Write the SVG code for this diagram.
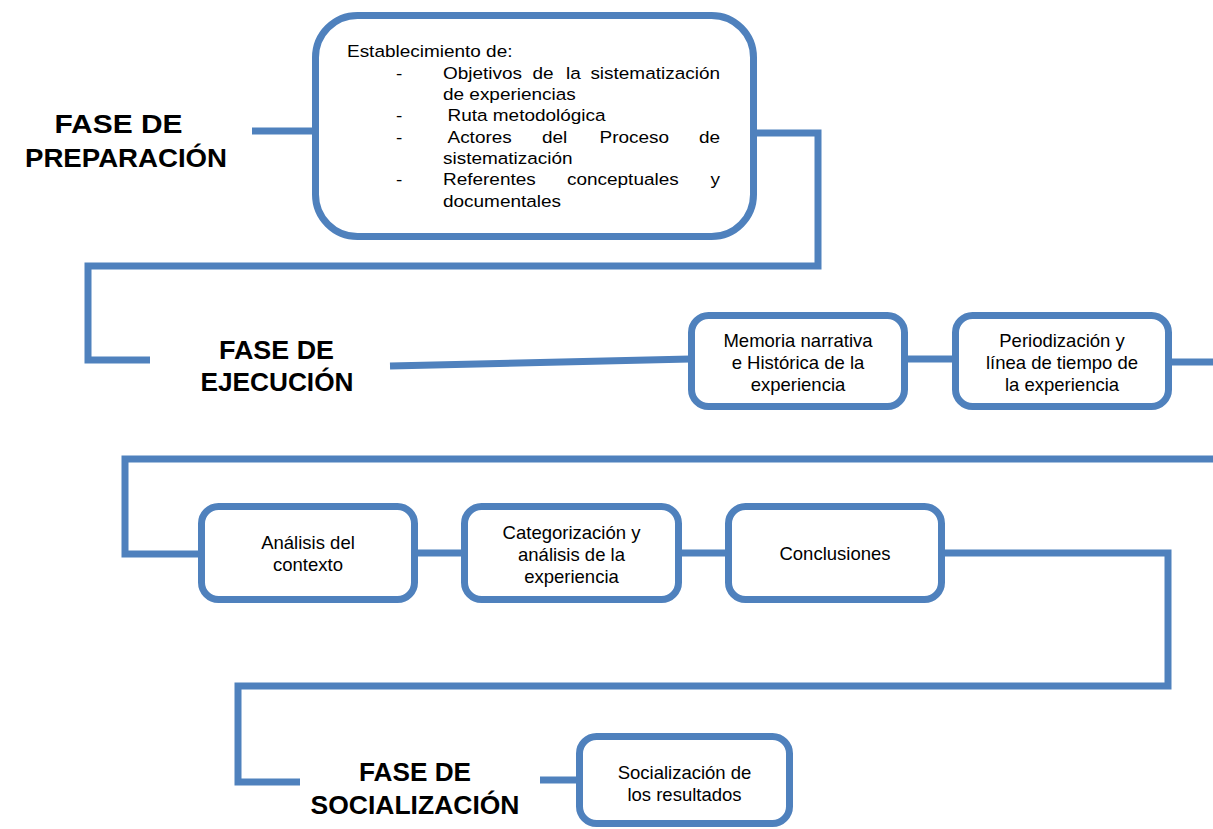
<svg xmlns="http://www.w3.org/2000/svg" width="1213" height="829" viewBox="0 0 1213 829">
<style>
.box{fill:#ffffff;stroke:#4f81bd;stroke-width:7}
.con{fill:none;stroke:#4f81bd;stroke-width:7;stroke-linejoin:miter;stroke-linecap:butt}
.t{font-family:"Liberation Sans",Arial,sans-serif;font-size:18.5px;fill:#000;text-anchor:middle}
.b{font-family:"Liberation Sans",Arial,sans-serif;font-size:16.5px;fill:#000}
.h{font-family:"Liberation Sans",Arial,sans-serif;font-size:26px;font-weight:bold;fill:#000;text-anchor:middle}
</style>
<rect width="1213" height="829" fill="#ffffff"/>
<g id="connectors">
<polyline class="con" points="252,131 314,131"/>
<polyline class="con" points="755,133 818,133 818,266 88,266 88,360 150,360"/>
<polyline class="con" points="390,366 690,359"/>
<polyline class="con" points="906,359 954,359"/>
<polyline class="con" points="1170,362 1213,362"/>
<polyline class="con" points="1213,459 125,459 125,554 200,554"/>
<polyline class="con" points="416,553 463,553"/>
<polyline class="con" points="680,553 727,553"/>
<polyline class="con" points="943,553 1168,553 1168,686 238,686 238,782 300,782"/>
<polyline class="con" points="540,780 578,780"/>
</g>
<g id="fase-preparacion">
<text class="h" x="118.5" y="133" textLength="128" lengthAdjust="spacingAndGlyphs">FASE DE</text>
<text class="h" x="126" y="167" textLength="202" lengthAdjust="spacingAndGlyphs">PREPARACIÓN</text>
</g>
<g id="establecimiento">
<rect class="box" x="315.5" y="15.5" width="438" height="221" rx="42" ry="42"/>
<g transform="scale(1.15,1)">
<text class="b" x="301.74" y="57.5">Establecimiento de:</text>
<text class="b" y="79"><tspan x="344.35">-</tspan><tspan x="385.22">Objetivos</tspan><tspan x="463.04">de</tspan><tspan x="492.17">la</tspan></text>
<text class="b" x="626.09" y="79" text-anchor="end">sistematización</text>
<text class="b" x="385.22" y="100">de experiencias</text>
<text class="b" y="121"><tspan x="344.35">-</tspan><tspan x="389.13">Ruta metodológica</tspan></text>
<text class="b" y="143"><tspan x="344.35">-</tspan><tspan x="389.13">Actores</tspan><tspan x="471.30">del</tspan><tspan x="521.30">Proceso</tspan></text>
<text class="b" x="626.09" y="143" text-anchor="end">de</text>
<text class="b" x="385.22" y="164">sistematización</text>
<text class="b" y="185.5"><tspan x="344.35">-</tspan><tspan x="385.22">Referentes</tspan><tspan x="493.04">conceptuales</tspan></text>
<text class="b" x="626.09" y="185.5" text-anchor="end">y</text>
<text class="b" x="385.22" y="207">documentales</text>
</g>
</g>
<g id="fase-ejecucion">
<text class="h" x="276.5" y="359" textLength="115" lengthAdjust="spacingAndGlyphs">FASE DE</text>
<text class="h" x="277" y="391" textLength="153" lengthAdjust="spacingAndGlyphs">EJECUCIÓN</text>
</g>
<g id="memoria">
<rect class="box" x="691.5" y="315.5" width="213" height="91" rx="17" ry="17"/>
<text class="t" x="798" y="347">Memoria narrativa</text>
<text class="t" x="798" y="369">e Histórica de la</text>
<text class="t" x="798" y="391">experiencia</text>
</g>
<g id="periodizacion">
<rect class="box" x="955.5" y="315.5" width="213" height="91" rx="17" ry="17"/>
<text class="t" x="1062" y="347">Periodización y</text>
<text class="t" x="1062" y="369">línea de tiempo de</text>
<text class="t" x="1062" y="391">la experiencia</text>
</g>
<g id="analisis">
<rect class="box" x="201.5" y="506.5" width="213" height="93" rx="17" ry="17"/>
<text class="t" x="308" y="549">Análisis del</text>
<text class="t" x="308" y="571">contexto</text>
</g>
<g id="categorizacion">
<rect class="box" x="464.5" y="506.5" width="214" height="93" rx="17" ry="17"/>
<text class="t" x="571.5" y="539">Categorización y</text>
<text class="t" x="571.5" y="561">análisis de la</text>
<text class="t" x="571.5" y="583">experiencia</text>
</g>
<g id="conclusiones">
<rect class="box" x="728.5" y="506.5" width="213" height="93" rx="17" ry="17"/>
<text class="t" x="835" y="560">Conclusiones</text>
</g>
<g id="fase-socializacion">
<text class="h" x="415" y="781" textLength="112" lengthAdjust="spacingAndGlyphs">FASE DE</text>
<text class="h" x="415" y="814" textLength="209" lengthAdjust="spacingAndGlyphs">SOCIALIZACIÓN</text>
</g>
<g id="socializacion">
<rect class="box" x="579.5" y="736.5" width="210" height="87" rx="17" ry="17"/>
<text class="t" x="684.5" y="779">Socialización de</text>
<text class="t" x="684.5" y="801">los resultados</text>
</g>
</svg>
